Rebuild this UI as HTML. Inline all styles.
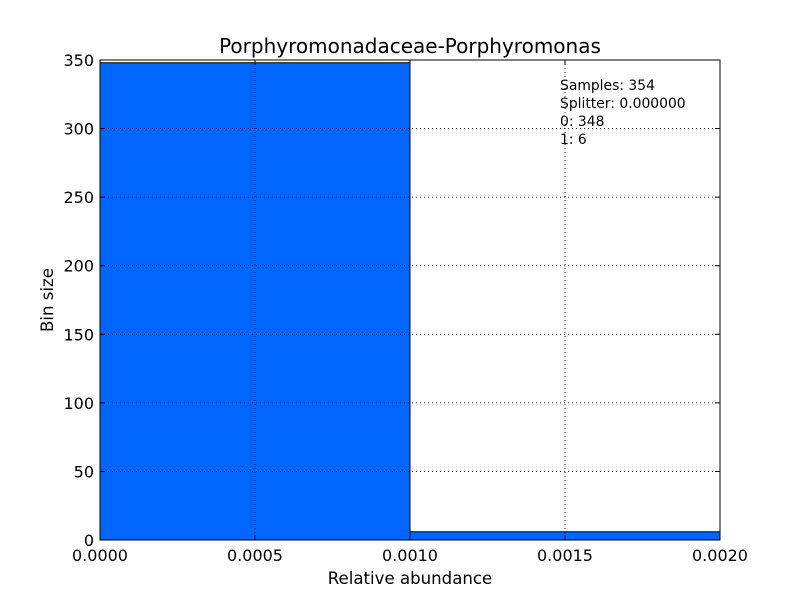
<!DOCTYPE html>
<html><head><meta charset="utf-8"><style>
body{margin:0;background:#fff;}
svg text{font-family:"DejaVu Sans","Liberation Sans",sans-serif;}
</style></head><body>
<svg id="chart" width="800" height="600" xmlns="http://www.w3.org/2000/svg">
<rect width="800" height="600" fill="#fff"/>
<g id="bars"></g>
<g id="grid"></g>
<g id="ticks"></g>
<rect x="100" y="60" width="620" height="480" fill="none" stroke="#000" stroke-width="1"/>
<text x="410" y="53" font-size="20" text-anchor="middle">Porphyromonadaceae-Porphyromonas</text>
<text x="410" y="584" font-size="16.6" text-anchor="middle">Relative abundance</text>
<text x="53" y="300" font-size="16.6" text-anchor="middle" transform="rotate(-90 53 300)">Bin size</text>
<g font-size="13.9">
<text x="560" y="90">Samples: 354</text>
<text x="560" y="108">Splitter: 0.000000</text>
<text x="560" y="126">0: 348</text>
<text x="560" y="144">1: 6</text>
</g>
</svg>
<script>
const binEdges=[0,0.001,0.002];
const binCounts=[348,6];
const xTicks=[0,0.0005,0.001,0.0015,0.002];
const xTickLabels=["0.0000","0.0005","0.0010","0.0015","0.0020"];
const yTicks=[0,50,100,150,200,250,300,350];
const L=100,R=720,T=60,B=540;
const x=v=>L+(v-0)/(0.002)*(R-L);
const y=v=>B-v/350*(B-T);
const NS="http://www.w3.org/2000/svg";
function mk(tag,attrs,parent){const e=document.createElementNS(NS,tag);for(const k in attrs)e.setAttribute(k,attrs[k]);document.getElementById(parent).appendChild(e);return e;}
binCounts.forEach((c,i)=>{
 const r=mk('rect',{x:x(binEdges[i]),y:y(c),width:x(binEdges[i+1])-x(binEdges[i]),height:B-y(c),fill:'#0066ff',stroke:'#000','stroke-width':1},'bars');
 
 
});
xTicks.forEach((t,i)=>{
 const g=mk('line',{x1:x(t),x2:x(t),y1:T,y2:B,stroke:'#000','stroke-dasharray':'1,3','stroke-width':0.8},'grid');
 
 
 mk('line',{x1:x(t),x2:x(t),y1:B,y2:B-5,stroke:'#000'},'ticks');
 mk('line',{x1:x(t),x2:x(t),y1:T,y2:T+5,stroke:'#000'},'ticks');
 const tx=mk('text',{x:x(t),y:B+21,'font-size':16,'text-anchor':'middle'},'ticks');
 tx.textContent=xTickLabels[i];
 
 
});
yTicks.forEach(t=>{
 const g=mk('line',{x1:L,x2:R,y1:y(t),y2:y(t),stroke:'#000','stroke-dasharray':'1,3','stroke-width':0.8},'grid');
 
 
 mk('line',{x1:L,x2:L+5,y1:y(t),y2:y(t),stroke:'#000'},'ticks');
 mk('line',{x1:R,x2:R-5,y1:y(t),y2:y(t),stroke:'#000'},'ticks');
 const tx=mk('text',{x:L-6,y:y(t)+6,'font-size':16,'text-anchor':'end'},'ticks');
 tx.textContent=t;
 
 
});
</script>
</body></html>
